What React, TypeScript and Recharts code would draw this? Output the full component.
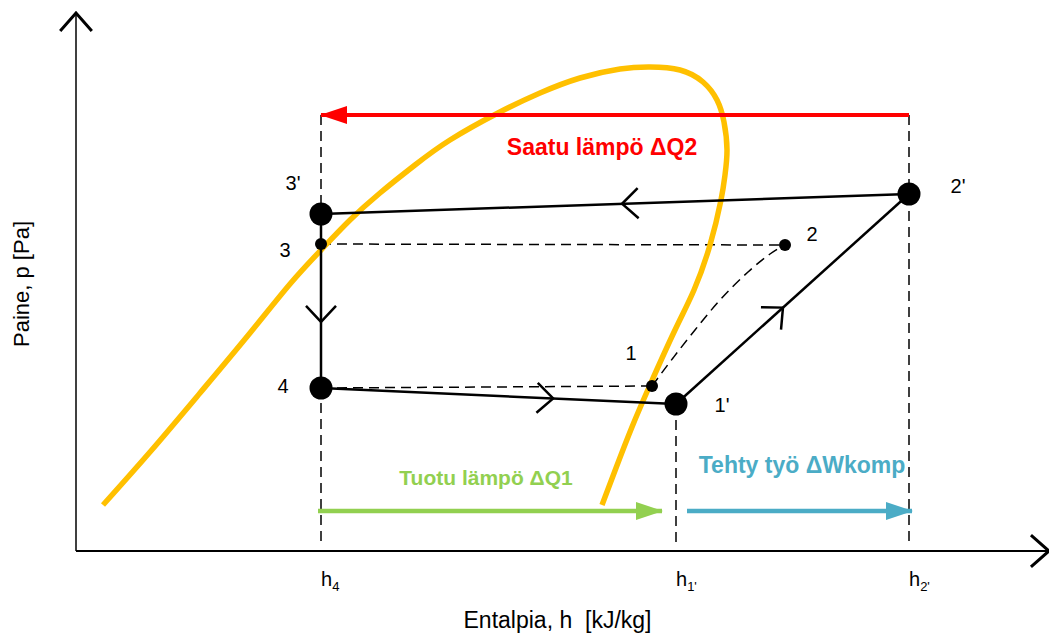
import { ComposedChart, Line, Scatter, XAxis, YAxis } from "recharts";

// Heat pump cycle on a pressure–enthalpy diagram (arbitrary units,
// one unit per pixel on both axes so arrow angles can be read from the data)
const H_MAX = 973;
const P_MAX = 538;

const H4 = 245;
const H1P = 600;
const H2P = 833;

const hTicks = [H4, H1P, H2P];
const hTickSubs = ["4", "1'", "2'"];

// saturation dome (liquid line up to the critical region, then vapour line down)
const domeH = [27, 74, 124, 174, 214, 245, 274, 304, 339, 374, 422, 464, 504, 544, 574, 604, 627, 641, 648, 651, 649, 645, 634, 618, 599, 574, 556, 540, 526];
const domeP = [46, 99, 158, 218, 267, 301, 331, 358, 386, 411, 438, 458, 473, 482, 484, 481, 469, 451, 429, 401, 376, 351, 306, 261, 221, 166, 124, 83, 46];

// cycle states
const stateNames = ["3'", "3", "4", "1", "1'", "2", "2'"];
const stateH = [245, 245, 245, 576, 600, 709, 833];
const stateP = [337, 307, 163, 165, 147, 306, 357];
const stateBig = [true, false, true, false, true, false, true];

// isentropic compression 1 -> 2
const compH = [576, 597, 619, 644, 672, 694, 709];
const compP = [165, 193, 221, 251, 279, 297, 306];

// real cycle 4 -> 1' -> 2' -> 3' -> 4
const flowFrom = ["4", "1'", "2'", "3'"];
const flowTo = ["1'", "2'", "3'", "4"];
const flowAt = [0.654, 0.459, 0.488, 0.62];

// energy arrows
const q2Level = 436;
const q2From = H2P;
const q2To = H4;
const bottomLevel = 40;
const q1From = 242;
const q1To = 586;
const wFrom = 611;
const wTo = 836;

const FONT = "'Liberation Sans', Arial, sans-serif";

const st = (name: string) => {
  const i = stateNames.indexOf(name);
  return { h: stateH[i], p: stateP[i] };
};

const dome = domeH.map((h, i) => ({ h, p: domeP[i] }));
const comp = compH.map((h, i) => ({ h, p: compP[i] }));
const states = stateNames.map((name, i) => ({ name, h: stateH[i], p: stateP[i], big: stateBig[i] }));

const cycleLines = [
  [st("4"), st("1'")],
  [st("1'"), st("2'")],
  [st("2'"), st("3'")],
  [st("3'"), st("4")],
];

const flowMarks = flowFrom.map((f, i) => {
  const a = st(f);
  const b = st(flowTo[i]);
  const t = flowAt[i];
  return {
    h: a.h + t * (b.h - a.h),
    p: a.p + t * (b.p - a.p),
    angle: Math.atan2(-(b.p - a.p), b.h - a.h),
  };
});

const dashedLines = [
  [{ h: H4, p: q2Level }, { h: H4, p: 5 }],
  [{ h: H1P, p: st("1'").p }, { h: H1P, p: 5 }],
  [{ h: H2P, p: q2Level }, { h: H2P, p: 5 }],
  [st("3"), st("2")],
  [st("4"), st("1")],
];

const axisArrows = [
  { h: H_MAX, p: 0, angle: 0 },
  { h: 0, p: P_MAX, angle: -Math.PI / 2 },
];

// label offsets in pixels from each state point
const stateLabelOffset: Record<string, [number, number]> = {
  "3'": [-28, -24],
  "3": [-36, 13],
  "4": [-38, 5],
  "1": [-21, -26],
  "1'": [46, 8],
  "2": [27, -4],
  "2'": [49, -1],
};

const notes = [
  { h: 526, p: 396, text: "Saatu lämpö ΔQ2", color: "#ff0000", size: 23 },
  { h: 410, p: 66, text: "Tuotu lämpö ΔQ1", color: "#92d050", size: 21 },
  { h: 726, p: 78, text: "Tehty työ ΔWkomp", color: "#4bacc6", size: 23 },
];

function vee(cx: number, cy: number, angle: number, len: number, spread: number) {
  const a1 = angle + Math.PI - spread;
  const a2 = angle + Math.PI + spread;
  return `M${cx + len * Math.cos(a1)},${cy + len * Math.sin(a1)}L${cx},${cy}L${cx + len * Math.cos(a2)},${cy + len * Math.sin(a2)}`;
}

const arrowHead = (color: string, dir: number) => (props: any) => {
  const { cx, cy, index } = props;
  if (index !== 1) return <g key={`a${index}`} />;
  const len = 27;
  const half = 9;
  const tip = cx + dir * 1;
  const base = tip - dir * len;
  return (
    <polygon
      key={`a${index}`}
      points={`${tip},${cy} ${base},${cy - half} ${base},${cy + half}`}
      fill={color}
    />
  );
};

function HTick(props: any) {
  const { x, y, payload } = props;
  const sub = hTickSubs[hTicks.indexOf(payload.value)];
  return (
    <text x={x} y={y + 27} fontSize={20} fontFamily={FONT} fill="#000">
      h
      <tspan dy={5} fontSize={13}>
        {sub}
      </tspan>
    </text>
  );
}

export default function App() {
  return (
    <div style={{ position: "absolute", left: 0, top: 0, width: 1049, height: 635, background: "#fff" }}>
      <ComposedChart width={1049} height={635} margin={{ top: 13, right: 0, left: 16, bottom: 54 }}>
        <XAxis
          type="number"
          dataKey="h"
          domain={[0, H_MAX]}
          ticks={hTicks}
          tick={<HTick />}
          tickLine={false}
          height={30}
          axisLine={{ stroke: "#000", strokeWidth: 2 }}
          label={{
            content: (p: any) => (
              <text
                x={p.viewBox.x + p.viewBox.width / 2 - 5}
                y={628}
                textAnchor="middle"
                fontSize={23}
                fontFamily={FONT}
                style={{ whiteSpace: "pre" }}
              >
                Entalpia, h  [kJ/kg]
              </text>
            ),
          }}
        />
        <YAxis
          type="number"
          dataKey="p"
          domain={[0, P_MAX]}
          tick={false}
          tickLine={false}
          width={60}
          axisLine={{ stroke: "#000", strokeWidth: 1.5 }}
          label={{
            content: (p: any) => {
              const x = p.viewBox.x + 13;
              const y = 284;
              return (
                <text
                  x={x}
                  y={y}
                  transform={`rotate(-90, ${x}, ${y})`}
                  textAnchor="middle"
                  fontSize={22}
                  fontFamily={FONT}
                >
                  Paine, p [Pa]
                </text>
              );
            },
          }}
        />

        {dashedLines.map((d, i) => (
          <Line
            key={`d${i}`}
            data={d}
            dataKey="p"
            stroke="#000"
            strokeWidth={1.5}
            strokeDasharray="10 6"
            dot={false}
            activeDot={false}
            isAnimationActive={false}
          />
        ))}
        <Line
          data={comp}
          dataKey="p"
          type="natural"
          stroke="#000"
          strokeWidth={1.5}
          strokeDasharray="10 6"
          dot={false}
          activeDot={false}
          isAnimationActive={false}
        />

        <Line
          data={dome}
          dataKey="p"
          type="natural"
          stroke="#ffc000"
          strokeWidth={5.5}
          dot={false}
          activeDot={false}
          isAnimationActive={false}
        />

        {cycleLines.map((d, i) => (
          <Line
            key={`c${i}`}
            data={d}
            dataKey="p"
            stroke="#000"
            strokeWidth={2.5}
            dot={false}
            activeDot={false}
            isAnimationActive={false}
          />
        ))}

        <Line
          data={[{ h: q2From, p: q2Level }, { h: q2To, p: q2Level }]}
          dataKey="p"
          stroke="#ff0000"
          strokeWidth={4}
          dot={arrowHead("#ff0000", -1)}
          activeDot={false}
          isAnimationActive={false}
        />
        <Line
          data={[{ h: q1From, p: bottomLevel }, { h: q1To, p: bottomLevel }]}
          dataKey="p"
          stroke="#92d050"
          strokeWidth={4.5}
          dot={arrowHead("#92d050", 1)}
          activeDot={false}
          isAnimationActive={false}
        />
        <Line
          data={[{ h: wFrom, p: bottomLevel }, { h: wTo, p: bottomLevel }]}
          dataKey="p"
          stroke="#4bacc6"
          strokeWidth={4.5}
          dot={arrowHead("#4bacc6", 1)}
          activeDot={false}
          isAnimationActive={false}
        />

        <Scatter
          data={flowMarks}
          dataKey="p"
          isAnimationActive={false}
          shape={(props: any) => (
            <path
              d={vee(props.cx, props.cy, props.payload.angle, 22, 0.75)}
              fill="none"
              stroke="#000"
              strokeWidth={2.5}
            />
          )}
        />
        <Scatter
          data={axisArrows}
          dataKey="p"
          isAnimationActive={false}
          shape={(props: any) => (
            <path
              d={vee(props.cx, props.cy, props.payload.angle, 24, 0.72)}
              fill="none"
              stroke="#000"
              strokeWidth={3}
            />
          )}
        />

        <Scatter
          data={states}
          dataKey="p"
          isAnimationActive={false}
          shape={(props: any) => {
            const { cx, cy, payload } = props;
            const [dx, dy] = stateLabelOffset[payload.name];
            return (
              <g>
                <circle cx={cx} cy={cy} r={payload.big ? 11.5 : 6} fill="#000" />
                <text
                  x={cx + dx}
                  y={cy + dy}
                  textAnchor="middle"
                  fontSize={20}
                  fontFamily={FONT}
                  fill="#000"
                >
                  {payload.name}
                </text>
              </g>
            );
          }}
        />

        <Scatter
          data={notes}
          dataKey="p"
          isAnimationActive={false}
          shape={(props: any) => (
            <text
              x={props.cx}
              y={props.cy}
              textAnchor="middle"
              fontSize={props.payload.size}
              fontWeight="bold"
              fontFamily={FONT}
              fill={props.payload.color}
            >
              {props.payload.text}
            </text>
          )}
        />
      </ComposedChart>
    </div>
  );
}
